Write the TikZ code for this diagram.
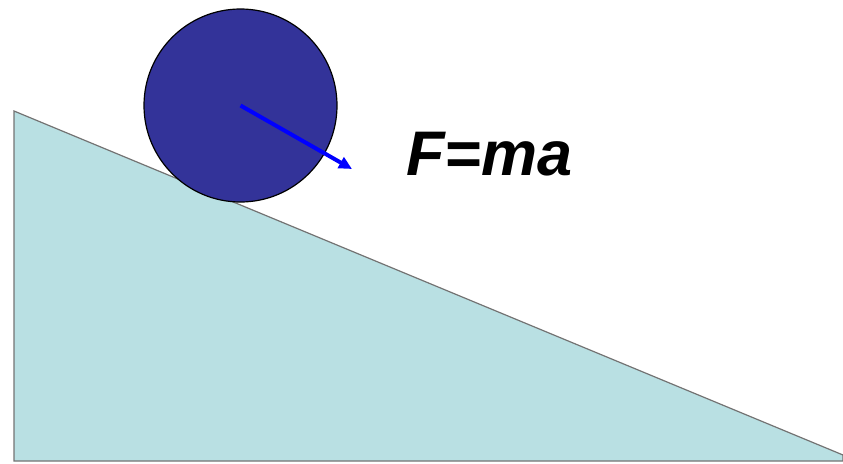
\documentclass[tikz,border=0pt]{standalone}
\usepackage{fontspec}
\setmainfont{Liberation Sans}
\usepackage{xcolor}
\definecolor{slope}{RGB}{185,224,227}
\definecolor{ballblue}{RGB}{51,51,153}
\usepackage{tikz}
\usetikzlibrary{positioning,arrows.meta}

\begin{document}
\begin{tikzpicture}[x=1pt, y=-1pt, >={Triangle[length=13pt,width=12pt]},
  ramp/.style={fill=slope, draw=black!55, line width=1.2pt},
  ball/.style={circle, draw=black, fill=ballblue, line width=1.2pt, minimum size=193pt, inner sep=0pt},
  force/.style={draw=blue, line width=4pt}]
\useasboundingbox (0,0) rectangle (843,463);
\draw[ramp] (14,111) -- (14,461) -- (843,461) -- (843,455) -- cycle;
\node[ball] (m) at (240.5,105.5) {};
\coordinate (tip) at (352,169);
\draw[force, ->] (m.center) -- (tip);
\node[font=\fontsize{63}{66}\selectfont\bfseries\itshape, anchor=base west, inner sep=0pt] (law) at (406,175) {F=ma};
\end{tikzpicture}
\end{document}
